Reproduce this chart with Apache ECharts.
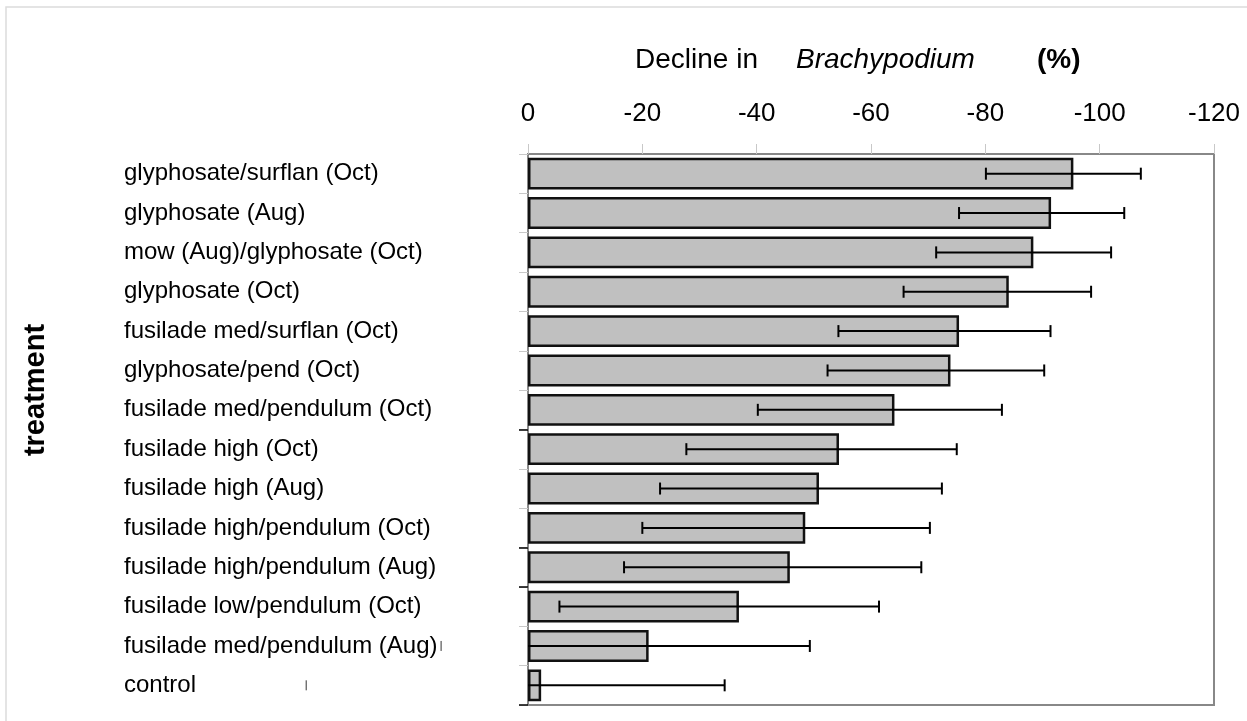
<!DOCTYPE html>
<html>
<head>
<meta charset="utf-8">
<script src="https://cdn.jsdelivr.net/npm/echarts@6/dist/echarts.min.js"></script>
<style>
  html, body { margin: 0; padding: 0; background: #fff; }
  #main { width: 1247px; height: 721px; }
</style>
</head>
<body>
<div id="main"></div>
<script>
// treatments, top to bottom
var treatments = [
    'glyphosate/surflan (Oct)',
    'glyphosate (Aug)',
    'mow (Aug)/glyphosate (Oct)',
    'glyphosate (Oct)',
    'fusilade med/surflan (Oct)',
    'glyphosate/pend (Oct)',
    'fusilade med/pendulum (Oct)',
    'fusilade high (Oct)',
    'fusilade high (Aug)',
    'fusilade high/pendulum (Oct)',
    'fusilade high/pendulum (Aug)',
    'fusilade low/pendulum (Oct)',
    'fusilade med/pendulum (Aug)',
    'control'
];
// decline in Brachypodium (%)
var decline = [-95.4, -91.5, -88.4, -84.1, -75.4, -73.9, -64.1, -54.4, -50.9, -48.5, -45.8, -36.9, -21.1, -2.3];
// error bar ends
var errLow  = [-80.1, -75.4, -71.4, -65.7, -54.3, -52.4, -40.2, -27.7, -23.1, -20.0, -16.8, -5.5, 15.2, 38.8];
var errHigh = [-107.2, -104.3, -102.0, -98.5, -91.4, -90.3, -82.9, -75.0, -72.4, -70.3, -68.8, -61.4, -49.3, -34.4];
var tickLabels = ['0', '-20', '-40', '-60', '-80', '-100', '-120'];
// category ticks drawn in black in the original
var darkTicks = [7, 10, 11];

var errData = [];
for (var i = 0; i < treatments.length; i++) {
    errData.push([errLow[i], errHigh[i], i]);
}

var myChart = echarts.init(document.getElementById('main'));

function renderErr(params, api) {
    var lo = api.coord([api.value(0), api.value(2)]);
    var hi = api.coord([api.value(1), api.value(2)]);
    var zero = api.coord([0, api.value(2)]);
    var startX = Math.max(lo[0], zero[0]);
    var y = lo[1];
    var h = 6;
    var st = { stroke: '#000', lineWidth: 2 };
    var outside = lo[0] < zero[0];
    return {
        type: 'group',
        children: [
            { type: 'line', shape: { x1: startX, y1: y, x2: hi[0], y2: y }, style: st },
            { type: 'line', shape: { x1: lo[0], y1: y - (outside ? 5 : h), x2: lo[0], y2: y + (outside ? 5 : h) },
              style: outside ? { stroke: '#333', lineWidth: 1 } : st },
            { type: 'line', shape: { x1: hi[0], y1: y - h, x2: hi[0], y2: y + h }, style: st }
        ]
    };
}

option = {
    backgroundColor: '#fff',
    textStyle: { fontFamily: 'Liberation Sans, Arial, sans-serif', color: '#000' },
    title: {
        left: 630,
        top: 41,
        text: '{a|Decline in}{b|Brachypodium}{c|(%)}',
        textStyle: {
            rich: {
                a: { fontSize: 28, color: '#000', fontWeight: 'normal', fontFamily: 'Liberation Sans' },
                b: { fontSize: 28, color: '#000', fontWeight: 'normal', fontStyle: 'italic', fontFamily: 'Liberation Sans', padding: [0, 0, 0, 38] },
                c: { fontSize: 28, color: '#000', fontWeight: 'bold', fontFamily: 'Liberation Sans', padding: [0, 0, 0, 62] }
            }
        }
    },
    graphic: [
        {
            type: 'rect',
            shape: { x: 6, y: 7, width: 1400, height: 900 },
            style: { fill: 'none', stroke: '#dcdcdc', lineWidth: 1.5 },
            silent: true
        },
        {
            type: 'text',
            x: 36,
            y: 390,
            rotation: Math.PI / 2,
            style: {
                text: 'treatment',
                fontSize: 29,
                fontWeight: 'bold',
                fontFamily: 'Liberation Sans',
                fill: '#000',
                align: 'center',
                verticalAlign: 'middle'
            },
            silent: true
        }
    ],
    grid: {
        left: 528,
        right: 33,
        top: 154,
        bottom: 16,
        show: true,
        borderColor: '#888',
        borderWidth: 2,
        backgroundColor: 'transparent'
    },
    xAxis: {
        type: 'value',
        position: 'top',
        inverse: true,
        min: -120,
        max: 0,
        interval: 20,
        axisLine: { show: true, lineStyle: { color: '#888', width: 2 } },
        axisTick: { show: true, length: 10, lineStyle: { color: '#c8c8c8', width: 1 } },
        splitLine: { show: false },
        axisLabel: {
            fontSize: 26,
            color: '#000',
            margin: 27,
            formatter: function (v) { return tickLabels[Math.round(-v / 20)]; }
        }
    },
    yAxis: [
        {
            type: 'category',
            inverse: true,
            data: treatments,
            axisLine: { show: true, lineStyle: { color: '#888', width: 2 } },
            axisTick: { show: true, length: 9, lineStyle: { color: '#c8c8c8', width: 1 } },
            axisLabel: { fontSize: 24, color: '#000', align: 'left', margin: 404 }
        },
        {
            type: 'category',
            inverse: true,
            position: 'left',
            data: treatments,
            axisLine: { show: false },
            axisLabel: { show: false },
            axisTick: {
                show: true,
                length: 9,
                interval: function (idx) { return darkTicks.indexOf(idx) >= 0; },
                lineStyle: { color: '#000', width: 1.5 }
            }
        }
    ],
    series: [
        {
            type: 'bar',
            data: decline,
            barCategoryGap: '19%',
            itemStyle: { color: '#c0c0c0', borderColor: '#111', borderWidth: 2.5 },
            silent: true,
            z: 2
        },
        {
            type: 'custom',
            data: errData,
            renderItem: renderErr,
            encode: { x: [0, 1], y: 2 },
            clip: false,
            silent: true,
            z: 3
        }
    ]
};

myChart.setOption(option);
</script>
</body>
</html>
